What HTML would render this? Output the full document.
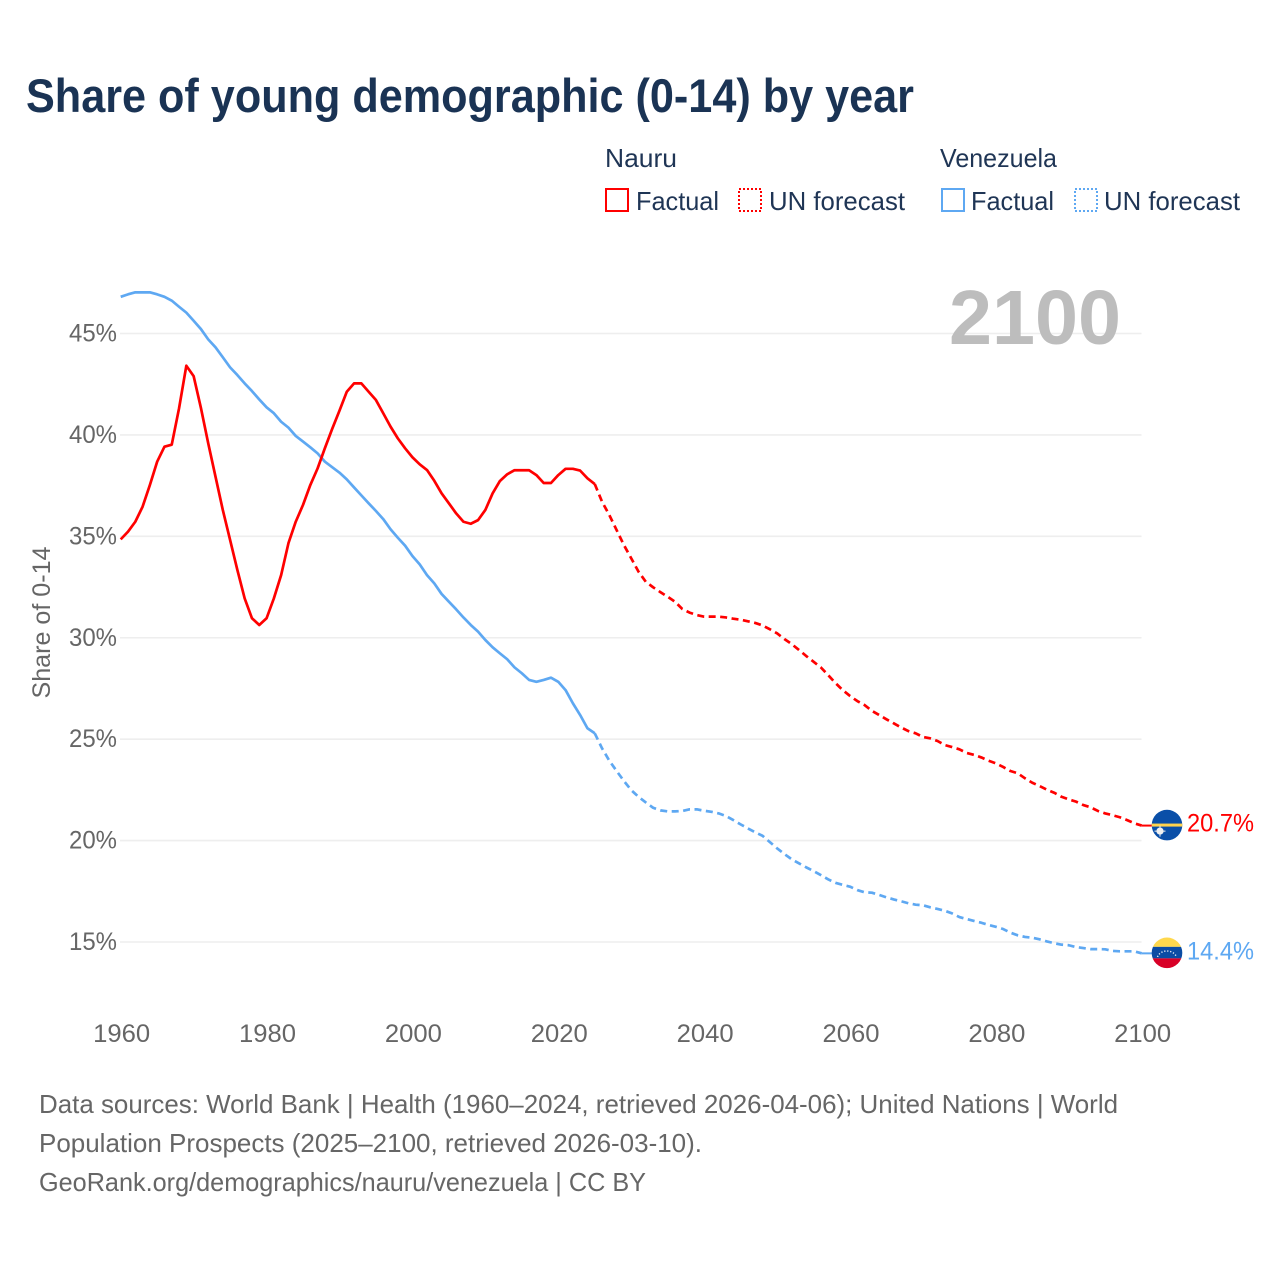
<!DOCTYPE html>
<html lang="en">
<head>
<meta charset="utf-8">
<title>Share of young demographic (0-14) by year</title>
<style>
html,body{margin:0;padding:0;background:#fff;}
svg{display:block;font-family:"Liberation Sans",sans-serif;}
</style>
</head>
<body>
<svg id="chart" width="1280" height="1280" viewBox="0 0 1280 1280" xmlns="http://www.w3.org/2000/svg">
  <rect x="0" y="0" width="1280" height="1280" fill="#ffffff"/>
  <text x="26" y="112" font-size="47" font-weight="700" fill="#1a3354" textLength="888" lengthAdjust="spacingAndGlyphs">Share of young demographic (0-14) by year</text>

  <g font-size="26" fill="#1f3555">
    <text x="605" y="167" textLength="72" lengthAdjust="spacingAndGlyphs">Nauru</text>
    <g>
      <rect x="606" y="189" width="22" height="22" fill="none" stroke="#ff0000" stroke-width="2"/>
      <text x="636" y="210" textLength="83" lengthAdjust="spacingAndGlyphs">Factual</text>
    </g>
    <g>
      <rect x="739" y="189" width="22" height="22" fill="none" stroke="#ff0000" stroke-width="2" stroke-dasharray="2 2"/>
      <text x="769" y="210" textLength="136" lengthAdjust="spacingAndGlyphs">UN forecast</text>
    </g>
    <text x="940" y="167" textLength="117" lengthAdjust="spacingAndGlyphs">Venezuela</text>
    <g>
      <rect x="942" y="189" width="22" height="22" fill="none" stroke="#5ea8f2" stroke-width="2"/>
      <text x="971" y="210" textLength="83" lengthAdjust="spacingAndGlyphs">Factual</text>
    </g>
    <g>
      <rect x="1075" y="189" width="22" height="22" fill="none" stroke="#5ea8f2" stroke-width="2" stroke-dasharray="2 2"/>
      <text x="1104" y="210" textLength="136" lengthAdjust="spacingAndGlyphs">UN forecast</text>
    </g>
  </g>

  <g id="grid"></g>
  <g id="y-axis"></g>
  <g id="x-axis"></g>
  <text transform="translate(50,622.5) rotate(-90)" text-anchor="middle" font-size="25" fill="#666666" textLength="152" lengthAdjust="spacingAndGlyphs">Share of 0-14</text>
  <text x="949" y="344" font-size="77" font-weight="700" fill="#bdbdbd" textLength="172" lengthAdjust="spacingAndGlyphs">2100</text>

  <g id="series"></g>
  <g id="end-markers"></g>

  <g font-size="26" fill="#666666">
    <text x="39" y="1113" textLength="1079" lengthAdjust="spacingAndGlyphs">Data sources: World Bank | Health (1960–2024, retrieved 2026-04-06); United Nations | World</text>
    <text x="39" y="1152" textLength="663" lengthAdjust="spacingAndGlyphs">Population Prospects (2025–2100, retrieved 2026-03-10).</text>
    <text x="39" y="1191" textLength="607" lengthAdjust="spacingAndGlyphs">GeoRank.org/demographics/nauru/venezuela | CC BY</text>
  </g>
</svg>
<script>
const factualStartYear = 1960;
const forecastStartYear = 2025;
const yTickValues = [15, 20, 25, 30, 35, 40, 45];
const xTickValues = [1960, 1980, 2000, 2020, 2040, 2060, 2080, 2100];

const nauruFactual = [
  34.85,35.23,35.72,36.46,37.53,38.68,39.42,39.52,41.31,43.41,
  42.90,41.33,39.59,37.94,36.30,34.82,33.34,31.94,30.96,30.63,
  30.96,31.94,33.09,34.66,35.72,36.55,37.53,38.35,39.35,40.30,
  41.20,42.13,42.54,42.54,42.13,41.72,41.07,40.41,39.83,39.34,
  38.90,38.55,38.27,37.74,37.12,36.63,36.13,35.72,35.62,35.80,
  36.30,37.12,37.73,38.06,38.26,38.26,38.26,38.02,37.63,37.63,
  38.02,38.33,38.33,38.24,37.86
];
const nauruForecast = [
  37.58,36.71,36.05,35.31,34.57,33.92,33.26,32.76,32.49,32.25,
  32.02,31.78,31.42,31.24,31.12,31.04,31.04,31.04,31.00,30.94,
  30.89,30.81,30.73,30.61,30.42,30.22,29.94,29.69,29.40,29.10,
  28.82,28.54,28.16,27.77,27.42,27.13,26.88,26.68,26.40,26.19,
  25.98,25.78,25.58,25.40,25.29,25.11,25.04,24.91,24.71,24.61,
  24.50,24.32,24.23,24.10,23.94,23.81,23.63,23.43,23.32,23.07,
  22.85,22.69,22.51,22.36,22.16,22.03,21.92,21.75,21.64,21.46,
  21.34,21.25,21.15,21.01,20.85,20.74
];
const venezuelaFactual = [
  46.81,46.93,47.03,47.03,47.03,46.93,46.81,46.62,46.32,46.03,
  45.63,45.22,44.71,44.32,43.83,43.33,42.95,42.54,42.16,41.75,
  41.36,41.07,40.65,40.36,39.95,39.67,39.39,39.09,38.68,38.41,
  38.14,37.81,37.41,37.02,36.63,36.25,35.85,35.35,34.93,34.54,
  34.03,33.62,33.09,32.68,32.16,31.78,31.40,31.00,30.63,30.30,
  29.89,29.53,29.23,28.94,28.54,28.25,27.92,27.83,27.92,28.03,
  27.83,27.42,26.77,26.19,25.54
];
const venezuelaForecast = [
  25.29,24.55,23.94,23.43,22.94,22.49,22.16,21.88,21.62,21.49,
  21.44,21.44,21.46,21.54,21.54,21.47,21.42,21.34,21.21,21.01,
  20.80,20.60,20.41,20.24,19.93,19.62,19.34,19.08,18.88,18.68,
  18.50,18.30,18.09,17.92,17.82,17.73,17.56,17.45,17.43,17.32,
  17.20,17.10,17.01,16.91,16.84,16.81,16.71,16.63,16.54,16.41,
  16.23,16.13,16.04,15.95,15.84,15.75,15.64,15.46,15.33,15.25,
  15.21,15.13,15.03,14.94,14.87,14.84,14.75,14.70,14.65,14.65,
  14.64,14.56,14.54,14.54,14.54,14.44
];

const NS = 'http://www.w3.org/2000/svg';
const RED = '#ff0000';
const BLUE = '#5ea8f2';

function xScale(year) { return 120.7 + (year - 1960) * (1021 / 140); }
function yScale(value) { return 942 - (value - 15) * 20.283; }

function make(tag, attrs, parent, text) {
  const el = document.createElementNS(NS, tag);
  for (const k in attrs) el.setAttribute(k, attrs[k]);
  if (text !== undefined) el.textContent = text;
  parent.appendChild(el);
  return el;
}

function linePath(values, startYear) {
  return values.map(function (v, i) {
    return (i ? 'L' : 'M') + xScale(startYear + i).toFixed(2) + ' ' + yScale(v).toFixed(2);
  }).join(' ');
}

const gridGroup = document.getElementById('grid');
const yAxisGroup = document.getElementById('y-axis');
const xAxisGroup = document.getElementById('x-axis');
const seriesGroup = document.getElementById('series');
const markerGroup = document.getElementById('end-markers');

yTickValues.forEach(function (v) {
  const line = make('line', { x1: 120, x2: 1141.5, y1: yScale(v), y2: yScale(v), stroke: '#eeeeee', 'stroke-width': 1.6 }, gridGroup);
  
  
  const label = make('text', { x: 117, y: yScale(v) + 8, 'text-anchor': 'end', 'font-size': 25, fill: '#666666', textLength: 48, lengthAdjust: 'spacingAndGlyphs' }, yAxisGroup, v + '%');
  
  
});

xTickValues.forEach(function (yr) {
  const label = make('text', { x: xScale(yr) + 1, y: 1042, 'text-anchor': 'middle', 'font-size': 25, fill: '#666666', textLength: 57, lengthAdjust: 'spacingAndGlyphs' }, xAxisGroup, String(yr));
  
  
});

function drawSeries(name, color, factual, forecast) {
  const solid = make('path', {
    d: linePath(factual.concat(forecast.slice(0, 1)), factualStartYear),
    fill: 'none', stroke: color, 'stroke-width': 2.7, 'stroke-linejoin': 'round'
  }, seriesGroup);
  
  
  const dashed = make('path', {
    d: linePath(forecast, forecastStartYear),
    fill: 'none', stroke: color, 'stroke-width': 2.7, 'stroke-dasharray': '7 4.5', 'stroke-linejoin': 'round'
  }, seriesGroup);
  
  
}
drawSeries('venezuela', BLUE, venezuelaFactual, venezuelaForecast);
drawSeries('nauru', RED, nauruFactual, nauruForecast);

function drawEnd(name, color, forecast, drawFlag) {
  const last = forecast[forecast.length - 1];
  const cy = yScale(last);
  const x0 = xScale(2100);
  const link = make('line', { x1: x0, x2: 1153, y1: cy, y2: cy, stroke: color, 'stroke-width': 2 }, markerGroup);
  
  
  const flag = make('g', { transform: 'translate(1167,' + (cy - 0.5) + ')' }, markerGroup);
  
  
  drawFlag(flag);
  const label = make('text', { x: 1187, y: cy + 6, 'font-size': 25, fill: color, textLength: 67, lengthAdjust: 'spacingAndGlyphs' }, markerGroup, last.toFixed(1) + '%');
  
  
}

drawEnd('nauru', RED, nauruForecast, function (g) {
  make('circle', { r: 15.3, fill: '#0a4fa8' }, g);
  make('rect', { x: -15.3, y: -1.5, width: 30.6, height: 3, fill: '#ffd34d' }, g);
  make('circle', { cx: -7, cy: 6, r: 3.6, fill: '#f0f0f0' }, g);
  make('path', { d: 'M-7 0.5 V11.5 M-12.5 6 H-1.5', stroke: '#f0f0f0', 'stroke-width': 1, fill: 'none' }, g);
});

const defs = make('defs', {}, markerGroup);
const clip = make('clipPath', { id: 've-clip' }, defs);
make('circle', { r: 15.3 }, clip);
drawEnd('venezuela', BLUE, venezuelaForecast, function (g) {
  const inner = make('g', { 'clip-path': 'url(#ve-clip)' }, g);
  make('rect', { x: -16, y: -16, width: 32, height: 10, fill: '#ffd84d' }, inner);
  make('rect', { x: -16, y: -6, width: 32, height: 11.5, fill: '#0b4ca4' }, inner);
  make('rect', { x: -16, y: 5.5, width: 32, height: 11, fill: '#d80027' }, inner);
  make('path', { d: 'M-9.5 4 A10 8.5 0 0 1 9.5 4', fill: 'none', stroke: '#f2f5fb', 'stroke-width': 1.4, 'stroke-dasharray': '1.2 1.8' }, inner);
});
</script>
</body>
</html>
